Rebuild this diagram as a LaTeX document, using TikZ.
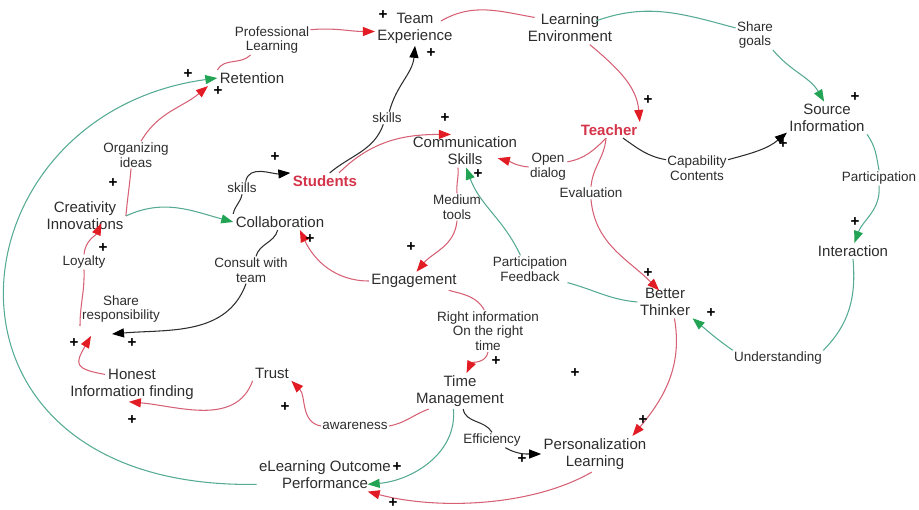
\documentclass[tikz,border=0pt]{standalone}
\usepackage{fontspec}
\setmainfont{Liberation Sans}
\usepackage{xcolor}
\usepackage{tikz}
\usetikzlibrary{arrows.meta}
\definecolor{ink}{RGB}{45,45,45}
\definecolor{keyred}{RGB}{212,52,74}
\definecolor{linkred}{RGB}{214,96,116}
\definecolor{tipred}{RGB}{226,28,36}
\definecolor{linkgreen}{RGB}{84,170,146}
\definecolor{tipgreen}{RGB}{34,164,84}
\begin{document}
\begin{tikzpicture}[x=0.03cm, y=-0.03cm,
  var/.style={align=center, inner sep=2pt, text=ink, font=\fontsize{12.8}{14.5}\selectfont},
  hot/.style={var, text=keyred, font=\fontsize{12.8}{14.5}\selectfont\bfseries},
  tag/.style={align=center, inner sep=1pt, text=ink, font=\fontsize{11.5}{12.5}\selectfont},
  sgn/.style={inner sep=0pt, text=black, font=\fontsize{13}{13}\selectfont\bfseries},
  rline/.style={draw=linkred, line width=0.9pt},
  gline/.style={draw=linkgreen, line width=0.9pt},
  bline/.style={draw=ink, line width=0.9pt},
  rarr/.style={rline, -{Triangle[length=3.6mm,width=2.7mm,color=tipred]}},
  garr/.style={gline, -{Triangle[length=3.6mm,width=2.7mm,color=tipgreen]}},
  barr/.style={bline, -{Triangle[length=3.6mm,width=2.7mm,color=black]}}]
\useasboundingbox (0,0) rectangle (919,510);
\node[var] (team) at (415,28) {Team\\Experience};
\node[var] (lenv) at (570,28) {Learning\\Environment};
\node[var] (ret) at (252,78) {Retention};
\node[var] (src) at (827,118) {Source\\Information};
\node[hot] (teach) at (609,130) {Teacher};
\node[var] (comm) at (465,151) {Communication\\Skills};
\node[hot] (stud) at (325,181) {Students};
\node[var] (crea) at (85,216) {Creativity\\Innovations};
\node[var] (coll) at (280,222) {Collaboration};
\node[var] (inter) at (853,251) {Interaction};
\node[var] (eng) at (414,281) {Engagement};
\node[var] (bett) at (665,302) {Better\\Thinker};
\node[var] (hon) at (132,384) {Honest\\Information finding};
\node[var] (trust) at (272,373) {Trust};
\node[var] (time) at (460,391) {Time\\Management};
\node[var] (pers) at (595,454) {Personalization\\Learning};
\node[var] (perf) at (325,475) {eLearning Outcome\\Performance};
\node[tag] (pl) at (272,40) {Professional\\Learning};
\node[tag] (sg) at (755,35) {Share\\goals};
\node[tag] (sk1) at (387,118) {skills};
\node[tag] (oi) at (136,155) {Organizing\\ideas};
\node[tag] (od) at (548,167) {Open\\dialog};
\node[tag] (cc) at (697,168) {Capability\\Contents};
\node[tag] (ev) at (591,193) {Evaluation};
\node[tag] (pa) at (879,178) {Participation};
\node[tag] (sk2) at (242,188) {skills};
\node[tag] (mt) at (457,207) {Medium\\tools};
\node[tag] (loy) at (84,262) {Loyalty};
\node[tag] (ct) at (251,270) {Consult with\\team};
\node[tag] (sr) at (121,309) {Share\\responsibility};
\node[tag] (pf) at (530,269) {Participation\\Feedback};
\node[tag] (ri) at (488,331) {Right information\\On the right\\time};
\node[tag] (und) at (778,358) {Understanding};
\node[tag] (aw) at (355,426) {awareness};
\node[tag] (eff) at (492,440) {Efficiency};
\coordinate (shrA) at (91,336); \coordinate (shrB) at (112,334); \coordinate (shrC) at (80,326);
\draw[rline] ([xshift=-12pt,yshift=6pt]team.east) to[out=30,in=170] ([xshift=8pt,yshift=9pt]lenv.west);
\draw[rarr] (lenv.-40) to[out=-40,in=95] (teach.north east);
\draw[gline] ([xshift=-16pt,yshift=6pt]lenv.east) to[out=20,in=165] (sg.160); \draw[garr] (sg.-40) to[out=-50,in=120] (src.100);
\draw[rline] (ret.north west) to[out=60,in=-135] (pl.-145); \draw[rarr] (pl.15) to[out=5,in=180] ([yshift=-3pt]team.west);
\draw[garr] ([yshift=-8pt]perf.west) .. controls (-90,490) and (-55,115) .. (ret.west);
\draw[rline] ([yshift=-14pt]crea.north east) to[out=85,in=-95] (oi.-110); \draw[rarr] (oi.70) to[out=60,in=-140] ([xshift=-8pt]ret.south west);
\draw[bline] (stud.60) to[out=40,in=-110] (sk1.-120); \draw[barr] (sk1.70) to[out=75,in=-95] (team.south);
\draw[rarr] (stud.30) to[out=45,in=180] ([xshift=-12pt]comm.north);
\draw[bline] (coll.north west) to[out=80,in=-100] (sk2.south); \draw[barr] (sk2.60) to[out=80,in=185] (stud.north west);
\draw[garr] (crea.east) to[out=25,in=165] (coll.west);
\draw[rline] (shrC) to[out=90,in=-88] (loy.south); \draw[rarr] (loy.north) to[out=85,in=-115] ([xshift=14pt,yshift=8pt]crea.south);
\draw[rarr] ([xshift=-23pt,yshift=-7pt]hon.north) to[out=170,in=-120,looseness=2] (shrA);
\draw[bline] ([xshift=-2pt]coll.south) to[out=-105,in=75] (ct.70); \draw[barr] (ct.-110) to[out=-110,in=5] (shrB);
\draw[rarr] (eng.west) to[out=180,in=-65] ([xshift=17pt]coll.south);
\draw[rline] ([xshift=-6pt]comm.south) to[out=-85,in=95] (mt.north); \draw[rarr] (mt.south) to[out=-95,in=50] (eng.75);
\draw[rline] (teach.-110) to[out=-135,in=10] (od.15); \draw[rarr] (od.west) to[out=175,in=-15] ([xshift=28pt,yshift=8pt]comm.south);
\draw[rline] (teach.-110) to[out=-95,in=85] (ev.north); \draw[rarr] (ev.south) to[out=-85,in=135] ([xshift=-5pt,yshift=-4pt]bett.north);
\draw[bline] (teach.-30) to[out=-35,in=170] (cc.165); \draw[barr] (cc.15) to[out=15,in=-140] (src.200);
\draw[gline] (src.south east) to[out=-55,in=100] (pa.north); \draw[garr] (pa.south) to[out=-85,in=70] (inter.80);
\draw[gline] (inter.south) to[out=-85,in=45] (und.north east); \draw[garr] (und.north west) to[out=145,in=-40] (bett.south east);
\draw[gline] (bett.west) to[out=175,in=-15] (pf.-20); \draw[garr] (pf.125) to[out=115,in=-70] ([xshift=1pt]comm.south);
\draw[rline] (eng.-15) to[out=-15,in=120] (ri.100); \draw[rarr] (ri.south) to[out=-100,in=65] (time.70);
\draw[rline] (time.-150) to[out=-160,in=10] (aw.east); \draw[rarr] (aw.west) to[out=170,in=-45] (trust.south east);
\draw[rarr] (trust.south west) to[out=-110,in=-5] (hon.-100);
\draw[bline] (time.-80) to[out=-80,in=120] (eff.north); \draw[barr] (eff.-30) to[out=-30,in=180] (pers.west);
\draw[garr] (time.-110) to[out=-85,in=5] ([xshift=-22pt,yshift=-8pt]perf.east);
\draw[rarr] (bett.-60) to[out=-80,in=50] ([xshift=-14pt]pers.north east);
\draw[rarr] (pers.-100) to[out=-150,in=-15,looseness=0.8] ([xshift=-22pt]perf.south east);
\foreach \p [count=\i] in {(383,15),(431,53),(188,74),(218,91),(275,157),(445,118),(648,100),(855,97),(783,144),
  (478,174),(411,247),(310,239),(113,183),(103,248),(74,343),(132,343),(855,222),(648,273),(711,313),
  (496,361),(575,373),(285,407),(132,420),(397,467),(393,503),(643,420),(522,459)}
  \node[sgn] (p\i) at \p {+};
\end{tikzpicture}
\end{document}
